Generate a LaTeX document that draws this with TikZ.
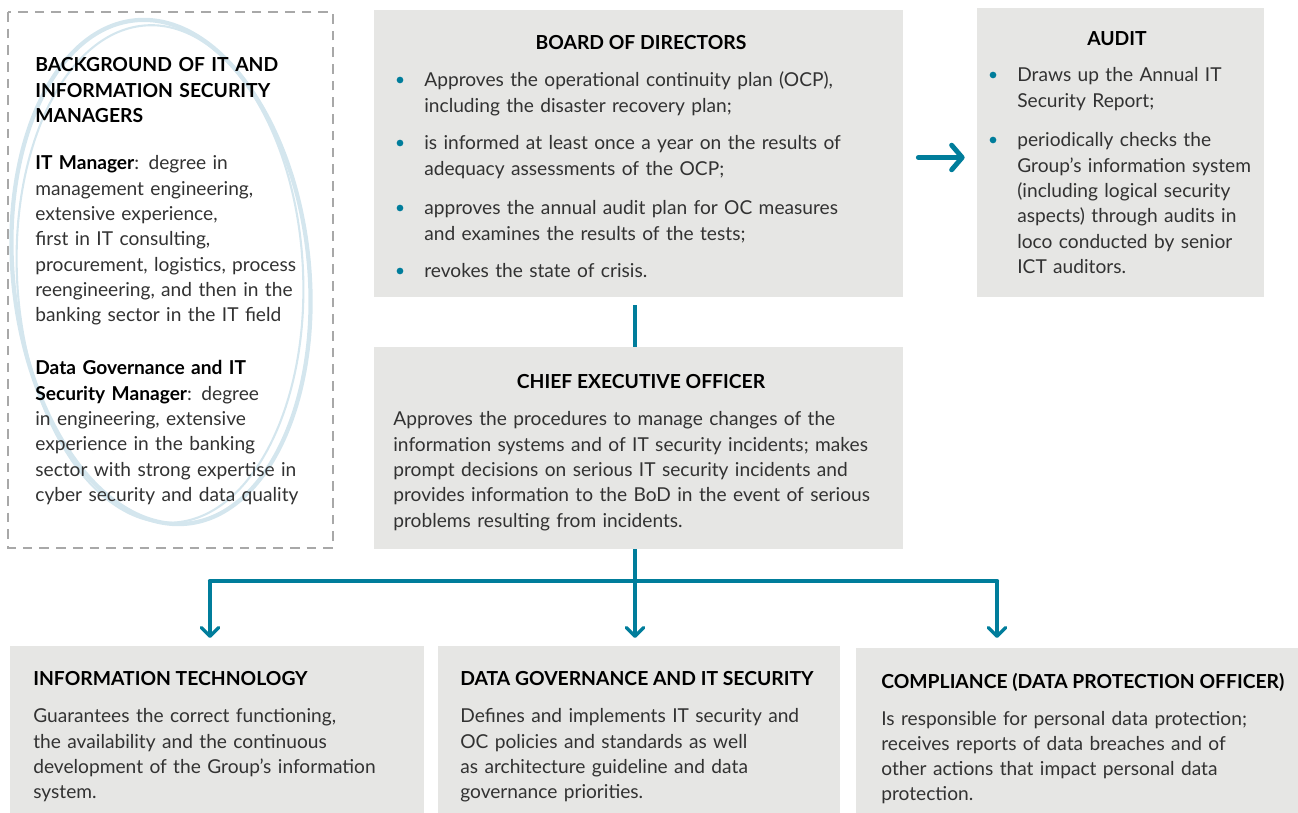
\documentclass[tikz,border=0pt]{standalone}
\usepackage{fontspec}
\setmainfont{Lato}
\usetikzlibrary{calc,fit,arrows.meta}
\definecolor{ocpteal}{RGB}{0,125,155}
\definecolor{boxgray}{RGB}{230,230,228}
\definecolor{dashgray}{RGB}{168,168,168}
\definecolor{brushblue}{RGB}{212,230,238}
\definecolor{txtgray}{RGB}{50,50,50}
\tikzset{
  box/.style={fill=boxgray, inner sep=0pt},
  head/.style={font=\bfseries\fontsize{11}{14.4}\selectfont, inner sep=0pt, text=black},
  body/.style={font=\fontsize{10.9}{14.4}\selectfont, inner sep=0pt, align=left,
    text width=9.8cm, text=txtgray},
  dot/.style={fill=ocpteal},
  flow/.style={draw=ocpteal, line width=1.9pt, line cap=round, line join=round},
  tip/.style={-{Straight Barb[length=5pt,width=10pt,line cap=round,round]}},
}
\begin{document}
\begin{tikzpicture}[x=0.02cm, y=-0.02cm]
  \useasboundingbox (0,0) rectangle (1298,813);

  % left: background of the managers, brush ring behind the text
  \draw[brushblue, line width=2.4pt, rotate around={6:(161,272)}]
    (161,272) ellipse [x radius=148, y radius=253];
  \draw[brushblue, line width=1.2pt, rotate around={3:(160,274)}]
    (160,274) ellipse [x radius=143, y radius=249];
  \draw[dashgray, line width=1.1pt, dash pattern=on 5.5pt off 4pt] (8,12) rectangle (333,548);
  \node[head, anchor=base west, align=left, text width=6cm] (bghead) at (35,72)
    {BACKGROUND OF IT AND\\INFORMATION SECURITY\\MANAGERS};
  \node[body, anchor=base west] (itman) at (35,170)
    {\textcolor{black}{\bfseries IT Manager}: degree in\\management engineering,\\extensive experience,\\
     first in IT consulting,\\procurement, logistics, process\\reengineering, and then in the\\
     banking sector in the IT field};
  \node[body, anchor=base west] (dgman) at (35,375)
    {\textcolor{black}{\bfseries Data Governance and IT}\\\textcolor{black}{\bfseries Security Manager}: degree\\
     in engineering, extensive\\experience in the banking\\sector with strong expertise in\\
     cyber security and data quality};

  % grey boxes
  \node[box, fit={(374,10) (903,297)}] (bod) {};
  \node[box, fit={(977,8) (1264,297)}] (audit) {};
  \node[box, fit={(374,347) (903,549)}] (ceo) {};
  \node[box, fit={(10,646) (424,813)}] (it) {};
  \node[box, fit={(438,646) (840,813)}] (dg) {};
  \node[box, fit={(856,648) (1298,813)}] (comp) {};

  % board of directors
  \node[head, anchor=base] (bodtitle) at (641,50) {BOARD OF DIRECTORS};
  \node[body, anchor=base west] (bod1) at (424,87)
    {Approves the operational continuity plan (OCP),\\including the disaster recovery plan;};
  \node[body, anchor=base west] (bod2) at (424,150)
    {is informed at least once a year on the results of\\adequacy assessments of the OCP;};
  \node[body, anchor=base west] (bod3) at (424,215)
    {approves the annual audit plan for OC measures\\and examines the results of the tests;};
  \node[body, anchor=base west] (bod4) at (424,278) {revokes the state of crisis.};
  \foreach \y in {80,143,208,271}
    \fill[dot] (400,\y) circle[radius=1.9pt];

  % audit
  \node[head, anchor=base] (audittitle) at (1117,46) {AUDIT};
  \node[body, anchor=base west] (audit1) at (1017,82)
    {Draws up the Annual IT\\Security Report;};
  \node[body, anchor=base west] (audit2) at (1017,147)
    {periodically checks the\\Group’s information system\\(including logical security\\
     aspects) through audits in\\loco conducted by senior\\ICT auditors.};
  \foreach \y in {75,140}
    \fill[dot] (993,\y) circle[radius=1.9pt];

  % chief executive officer
  \node[head, anchor=base] (ceotitle) at (641,389) {CHIEF EXECUTIVE OFFICER};
  \node[body, anchor=base west] (ceotxt) at (393,426)
    {Approves the procedures to manage changes of the\\information systems and of IT security incidents; makes\\
     prompt decisions on serious IT security incidents and\\provides information to the BoD in the event of serious\\
     problems resulting from incidents.};

  % functions
  \node[head, anchor=base west] (ittitle) at (33,685) {INFORMATION TECHNOLOGY};
  \node[body, anchor=base west] (ittxt) at (33,723)
    {Guarantees the correct functioning,\\the availability and the continuous\\
     development of the Group’s information\\system.};
  \node[head, anchor=base west] (dgtitle) at (460,685) {DATA GOVERNANCE AND IT SECURITY};
  \node[body, anchor=base west] (dgtxt) at (460,723)
    {Defines and implements IT security and\\OC policies and standards as well\\
     as architecture guideline and data\\governance priorities.};
  \node[head, anchor=base west] (comptitle) at (881,688) {COMPLIANCE (DATA PROTECTION OFFICER)};
  \node[body, anchor=base west] (comptxt) at (881,725)
    {Is responsible for personal data protection;\\receives reports of data breaches and of\\
     other actions that impact personal data\\protection.};

  % connectors
  \draw[flow, line width=2.8pt, shorten <=0.16cm, line cap=butt] (bod.south -| 635,0) -- (ceo.north -| 635,0);
  \draw[flow, line width=2.8pt, -{Straight Barb[length=6pt,width=14pt,line cap=round,round]},
    shorten <=0.3cm, shorten >=0.24cm] ($(bod.east)+(0,4)$) -- ($(audit.west)+(0,5)$);
  \coordinate (bar) at (635,581);
  \coordinate (itin) at (210,646);
  \coordinate (dgin) at (635,646);
  \coordinate (compin) at (997,648);
  \draw[flow, line cap=butt] (ceo.south -| bar) -- (bar);
  \draw[flow, line width=2.4pt] (itin |- bar) -- (compin |- bar);
  \draw[flow, tip, shorten >=0.16cm] (itin |- bar) -- (itin);
  \draw[flow, tip, shorten >=0.16cm] (bar) -- (dgin);
  \draw[flow, tip, shorten >=0.2cm] (compin |- bar) -- (compin);
\end{tikzpicture}
\end{document}
